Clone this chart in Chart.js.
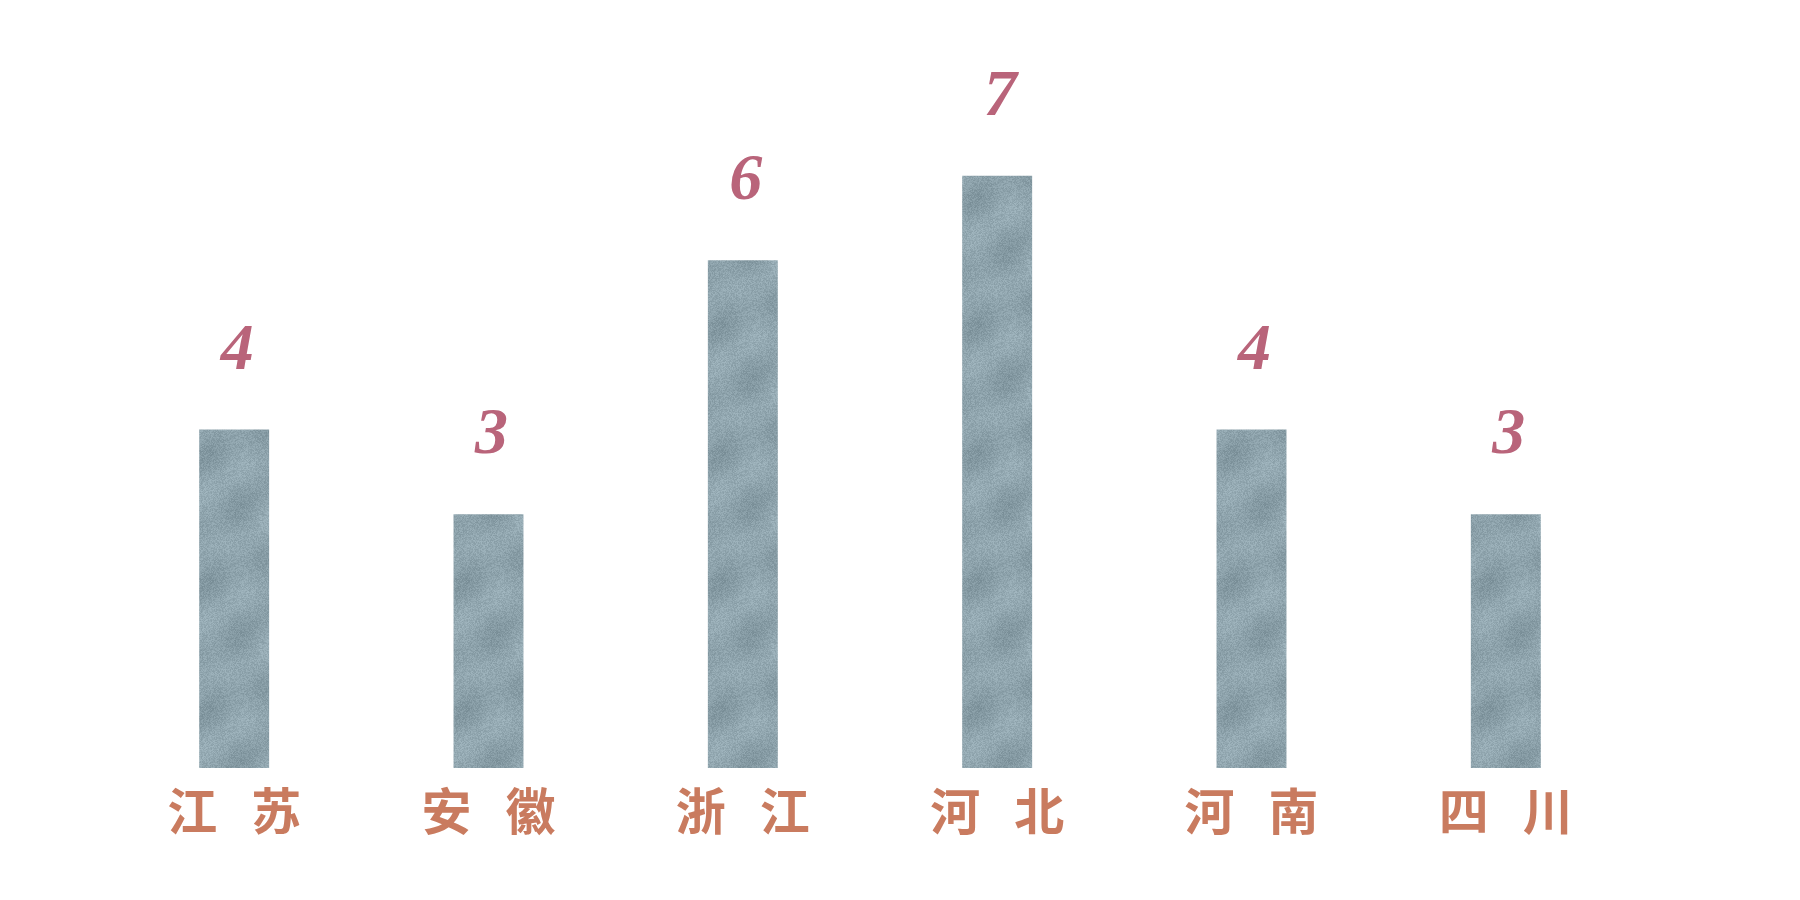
<!DOCTYPE html>
<html><head><meta charset="utf-8">
<script src="https://cdn.jsdelivr.net/npm/chart.js@4.4.1/dist/chart.umd.min.js"></script>
<style>html,body{margin:0;padding:0;background:#fff}#wrap{width:1800px;height:900px}</style>
</head><body><div id="wrap"><canvas id="c" width="1800" height="900"></canvas></div>
<script>
const categories = ['江   苏', '安   徽', '浙   江', '河   北', '河   南', '四   川'];
const values = [4, 3, 6, 7, 4, 3];

// brush-like texture pattern (deterministic hash noise, seamlessly tiling)
function makeTexture() {
  const S = 128;
  const c = document.createElement('canvas');
  c.width = S; c.height = S;
  const g = c.getContext('2d');
  const img = g.createImageData(S, S);
  const T = 2 * Math.PI / S;
  for (let y = 0; y < S; y++) {
    for (let x = 0; x < S; x++) {
      let h = (x * 374761393 + y * 668265263) ^ 0x5bd1e995;
      h = Math.imul(h ^ (h >>> 13), 1274126177);
      const n = ((h >>> 0) % 1000) / 1000;
      const blot = Math.sin(x * T * 2) * Math.cos(y * T * 1) + Math.sin((x + 2 * y) * T);
      const i = (y * S + x) * 4;
      const d = (n - 0.5) * 24 + blot * 6;
      img.data[i] = Math.min(255, 142 + d);
      img.data[i + 1] = Math.min(255, 163 + d);
      img.data[i + 2] = Math.min(255, 172 + d);
      img.data[i + 3] = 255;
    }
  }
  g.putImageData(img, 0, 0);
  return g.createPattern(c, 'repeat');
}

const valueLabels = {
  id: 'valueLabels',
  afterDatasetsDraw(chart) {
    const ctx = chart.ctx;
    const meta = chart.getDatasetMeta(0);
    ctx.save();
    ctx.fillStyle = '#b9647a';
    ctx.font = 'italic bold 66px "Liberation Serif"';
    ctx.textAlign = 'center';
    ctx.textBaseline = 'middle';
    meta.data.forEach((bar, i) => {
      ctx.fillText(String(chart.data.datasets[0].data[i]), bar.x + 3, bar.y - 78);
    });
    ctx.restore();
  }
};

new Chart(document.getElementById('c'), {
  type: 'bar',
  data: {
    labels: categories,
    datasets: [{
      data: values,
      backgroundColor: makeTexture(),
      borderWidth: 0,
      barPercentage: 0.275,
      categoryPercentage: 1
    }]
  },
  options: {
    responsive: false,
    animation: false,
    layout: { padding: { left: 107, right: 167, top: 91, bottom: 0 } },
    plugins: { legend: { display: false }, tooltip: { enabled: false } },
    scales: {
      x: {
        grid: { display: false, drawTicks: false },
        border: { display: false },
        ticks: {
          color: '#c97b5f',
          padding: 13,
          font: { family: '"Noto Sans CJK SC"', size: 50, weight: 'bold' }
        },
        afterFit(s) { s.height = 132; }
      },
      y: { display: false, min: 0, max: 8 }
    }
  },
  plugins: [valueLabels]
});
</script>
</body></html>
